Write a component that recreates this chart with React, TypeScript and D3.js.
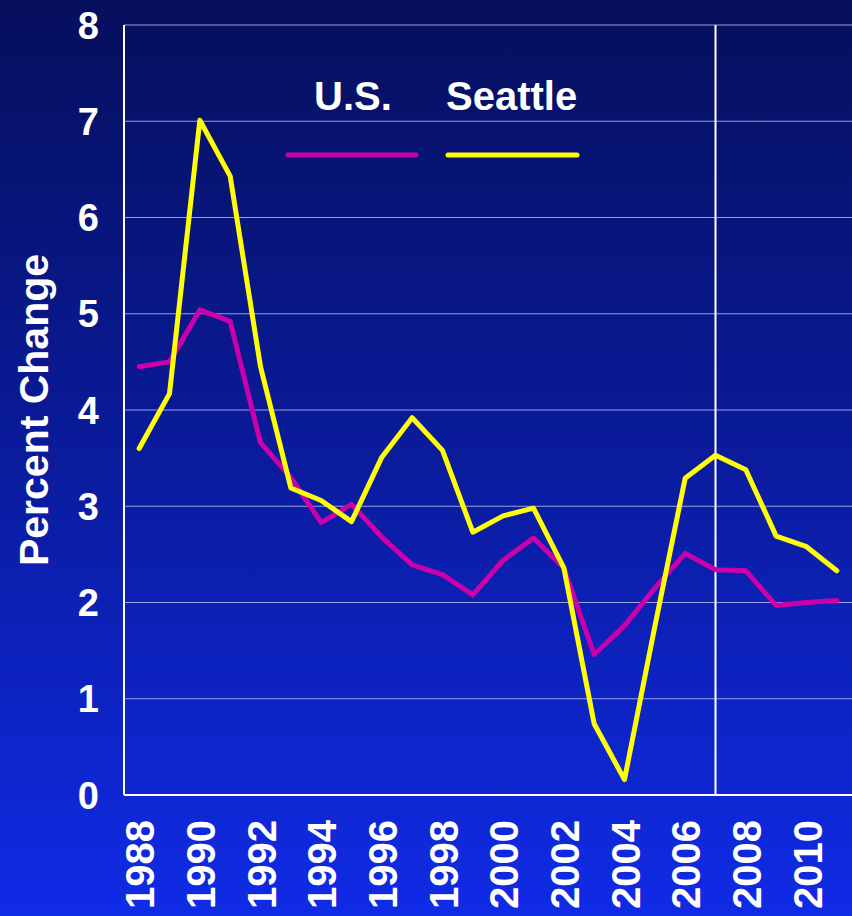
import * as d3 from "d3"

const years = [
  1988, 1989, 1990, 1991, 1992, 1993, 1994, 1995, 1996, 1997, 1998, 1999,
  2000, 2001, 2002, 2003, 2004, 2005, 2006, 2007, 2008, 2009, 2010, 2011,
]
const usValues = [
  4.45, 4.5, 5.04, 4.92, 3.66, 3.3, 2.83, 3.02, 2.68, 2.39, 2.29, 2.08,
  2.44, 2.67, 2.36, 1.46, 1.76, 2.15, 2.51, 2.34, 2.33, 1.97, 2.0, 2.02,
]
const seattleValues = [
  3.6, 4.17, 7.01, 6.43, 4.45, 3.19, 3.06, 2.84, 3.51, 3.92, 3.58, 2.73,
  2.9, 2.98, 2.36, 0.74, 0.16, 1.75, 3.29, 3.53, 3.38, 2.69, 2.58, 2.33,
]
const yTicks = [0, 1, 2, 3, 4, 5, 6, 7, 8]
const yearLabels = [1988, 1990, 1992, 1994, 1996, 1998, 2000, 2002, 2004, 2006, 2008, 2010]
const markerYear = 2007
const seriesNames = ["U.S.", "Seattle"]

const W = 852
const H = 916
const left = 124
const right = 852
const top = 25
const bottom = 795
const font = "'Liberation Sans', Arial, sans-serif"

export default function App() {
  const x = d3
    .scalePoint<number>()
    .domain(years)
    .range([left, right])
    .padding(0.5)
  const y = d3.scaleLinear().domain([0, 8]).range([bottom, top])

  const line = d3
    .line<number>()
    .x((_, i) => x(years[i])!)
    .y((v) => y(v))

  const usPath = line(usValues) ?? undefined
  const seattlePath = line(seattleValues) ?? undefined

  return (
    <svg
      width={W}
      height={H}
      style={{ position: "absolute", left: 0, top: 0, display: "block" }}
      fontFamily={font}
      fontWeight="bold"
    >
      <defs>
        <linearGradient id="bg" x1="0" y1="0" x2="0" y2="1">
          <stop offset="0%" stopColor="#060f5c" />
          <stop offset="50%" stopColor="#0a1b9c" />
          <stop offset="100%" stopColor="#102be6" />
        </linearGradient>
      </defs>
      <rect width={W} height={H} fill="url(#bg)" />

      {/* grid */}
      <g stroke="#c8cdf0" strokeOpacity={0.75} strokeWidth={1.2}>
        {yTicks.map((t) => (
          <line key={t} x1={left} x2={right} y1={y(t)} y2={y(t)} />
        ))}
      </g>
      <line x1={left} x2={left} y1={top} y2={bottom} stroke="#fff" strokeWidth={2} />
      <line x1={left} x2={right} y1={bottom} y2={bottom} stroke="#fff" strokeWidth={2} />
      <line
        x1={x(markerYear)}
        x2={x(markerYear)}
        y1={top}
        y2={bottom}
        stroke="#fff"
        strokeWidth={2}
      />

      {/* y ticks */}
      <g fill="#fff" fontSize={38} textAnchor="end">
        {yTicks.map((t) => (
          <text key={t} x={99} y={y(t)} dy="0.36em">
            {t}
          </text>
        ))}
      </g>
      <text
        transform={`translate(48,410) rotate(-90)`}
        fill="#fff"
        fontSize={41}
        textAnchor="middle"
      >
        Percent Change
      </text>

      {/* x labels */}
      <g fill="#fff" fontSize={40} textAnchor="end">
        {yearLabels.map((yr) => (
          <text
            key={yr}
            transform={`translate(${x(yr)! + 15},${820}) rotate(-90)`}
          >
            {yr}
          </text>
        ))}
      </g>

      {/* series */}
      <path d={usPath} fill="none" stroke="#cc00aa" strokeWidth={5} strokeLinejoin="round" strokeLinecap="round" />
      <path d={seattlePath} fill="none" stroke="#ffff00" strokeWidth={5} strokeLinejoin="round" strokeLinecap="round" />

      {/* legend */}
      <g fill="#fff" fontSize={40}>
        <text x={314} y={110}>{seriesNames[0]}</text>
        <text x={446} y={110}>{seriesNames[1]}</text>
      </g>
      <line x1={288} x2={416} y1={155} y2={155} stroke="#cc00aa" strokeWidth={5} strokeLinecap="round" />
      <line x1={448} x2={577} y1={155} y2={155} stroke="#ffff00" strokeWidth={5} strokeLinecap="round" />
    </svg>
  )
}
